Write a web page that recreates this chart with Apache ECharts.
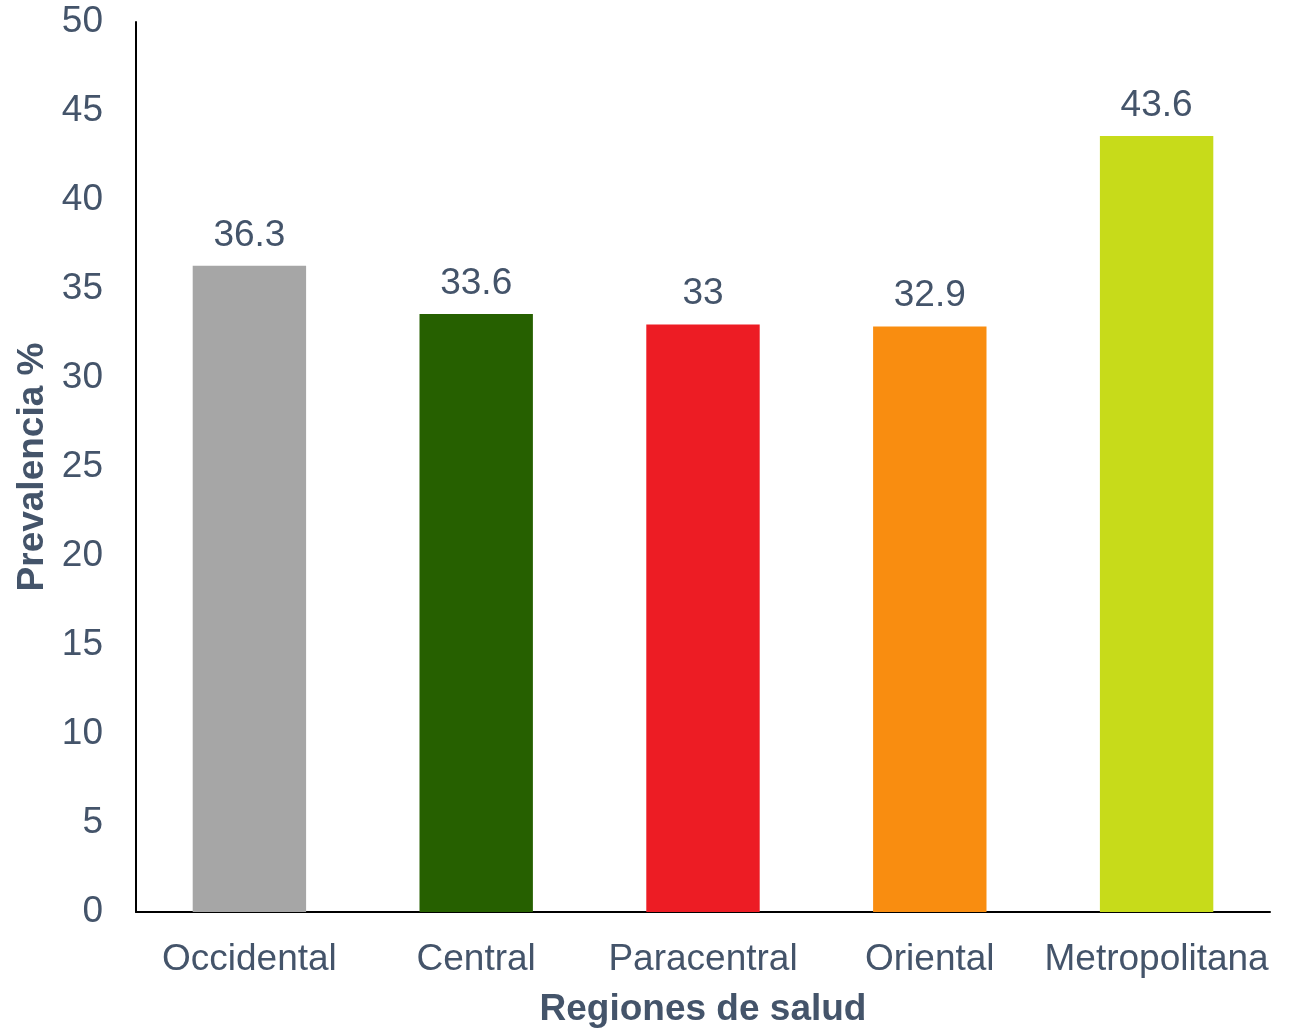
<!DOCTYPE html>
<html>
<head>
<meta charset="utf-8">
<script src="https://cdn.jsdelivr.net/npm/echarts@6/dist/echarts.min.js"></script>
<style>
html,body{margin:0;padding:0;background:#fff;}
#chart{width:1299px;height:1028px;}
</style>
</head>
<body>
<div id="chart"></div>
<script>
const categories = ["Occidental", "Central", "Paracentral", "Oriental", "Metropolitana"];
const values = [36.3, 33.6, 33, 32.9, 43.6];
const colors = ["#A6A6A6", "#266000", "#ED1C24", "#F98D10", "#C7DB1A"];
const yTicks = { min: 0, max: 50, interval: 5 };

const textColor = "#44546A";
const font = "Arial, 'Liberation Sans', sans-serif";

const chart = echarts.init(document.getElementById('chart'), null, { renderer: 'canvas' });
chart.setOption({
  backgroundColor: '#fff',
  animation: false,
  grid: { left: 136, right: 29, top: 22, bottom: 116, containLabel: false, outerBoundsMode: 'none' },
  xAxis: {
    type: 'category',
    data: categories,
    axisLine: { lineStyle: { color: '#000', width: 2 } },
    axisTick: { show: false },
    axisLabel: { color: textColor, fontSize: 37, fontFamily: font, margin: 29, interval: 0 },
    name: 'Regiones de salud',
    nameLocation: 'middle',
    nameGap: 79,
    nameTextStyle: { color: textColor, fontSize: 37, fontWeight: 'bold', fontFamily: font }
  },
  yAxis: {
    type: 'value',
    min: yTicks.min, max: yTicks.max, interval: yTicks.interval,
    axisLine: { show: true, lineStyle: { color: '#000', width: 2 } },
    axisTick: { show: false },
    splitLine: { show: false },
    axisLabel: { color: textColor, fontSize: 37, fontFamily: font, margin: 33 },
    name: 'Prevalencia %',
    nameLocation: 'middle',
    nameGap: 79,
    nameTextStyle: { color: textColor, fontSize: 37, fontWeight: 'bold', fontFamily: font }
  },
  series: [{
    type: 'bar',
    barWidth: '50%',
    data: values.map((v, i) => ({ value: v, itemStyle: { color: colors[i] } })),
    label: {
      show: true, position: 'top', distance: 12,
      color: textColor, fontSize: 37, fontFamily: font
    }
  }]
});
</script>
</body>
</html>
